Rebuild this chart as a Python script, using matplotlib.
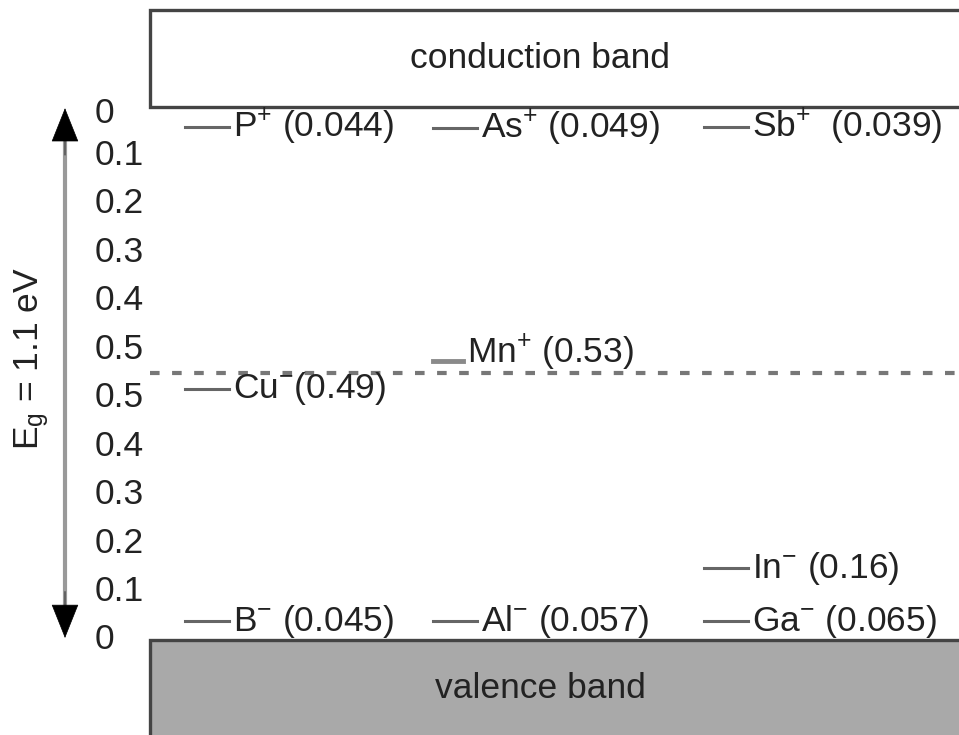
import matplotlib
matplotlib.use("Agg")
import matplotlib.pyplot as plt
from matplotlib.patches import Rectangle

plt.rcParams["font.family"] = ["Liberation Sans", "DejaVu Sans"]
plt.rcParams["mathtext.fontset"] = "custom"
plt.rcParams["mathtext.rm"] = "Liberation Sans"
plt.rcParams["mathtext.it"] = "Liberation Sans:italic"

# band gap and impurity levels (eV above valence band edge)
gap = 1.1
mid_gap = 0.55
names = [r"P$^{+}$ (0.044)", r"As$^{+}$ (0.049)", r"Sb$^{+}$  (0.039)",
         r"Mn$^{+}$ (0.53)", r"Cu$^{-}$(0.49)", r"In$^{-}$ (0.16)",
         r"B$^{-}$ (0.045)", r"Al$^{-}$ (0.057)", r"Ga$^{-}$ (0.065)"]
levels = [1.058, 1.057, 1.058, 0.575, 0.518, 0.148, 0.039, 0.039, 0.039]
column = [0, 1, 2, 1, 0, 2, 0, 1, 2]

# tick labels: distance from nearest band edge
top_ticks = [0, 0.1, 0.2, 0.3, 0.4, 0.5]
bottom_ticks = [0.5, 0.4, 0.3, 0.2, 0.1, 0]

fig = plt.figure(figsize=(9.59, 7.35), dpi=100)
ax = fig.add_axes([0, 0, 1, 1])
ax.set_xlim(0, 959)
ax.set_ylim(-0.196, 1.32)
ax.axis("off")

fs = 25.5
col_x = [185, 433, 704]
edge = "#444444"
txt = "#222222"

# bands
ax.add_patch(Rectangle((150, gap), 900, 0.2, facecolor="white",
                       edgecolor=edge, lw=2.4, zorder=2))
ax.add_patch(Rectangle((150, -0.4), 900, 0.4, facecolor="#a9a9a9",
                       edgecolor=edge, lw=2.4, zorder=2))
ax.text(540, gap + 0.1, "conduction band", ha="center", va="center",
        fontsize=fs, color=txt)
ax.text(540, -0.1, "valence band", ha="center", va="center",
        fontsize=fs, color=txt)

# mid-gap dashed line
ax.plot([150, 959], [mid_gap, mid_gap], color="#777777", lw=3,
        dashes=(2.3, 3.0))

# impurity levels
for name, e, c in zip(names, levels, column):
    x0 = col_x[c]
    if name.startswith("Mn"):
        ax.plot([x0, x0 + 30], [e, e], color="#8a8a8a", lw=3.5)
        ax.text(x0 + 34, e + 0.018, name, ha="left", va="center",
                fontsize=fs, color=txt)
    else:
        ax.plot([x0, x0 + 44], [e, e], color="#666666", lw=2.2)
        ax.text(x0 + 48, e, name, ha="left", va="center",
                fontsize=fs, color=txt)

# tick labels (the top zero sits just under the band edge)
for t in top_ticks:
    ax.text(95, gap - t - (0.014 if t == 0 else 0), f"{t:g}", ha="left",
            va="center", fontsize=fs, color=txt)
for t in bottom_ticks:
    ax.text(95, t, f"{t:g}", ha="left", va="center",
            fontsize=fs, color=txt)

# double arrow for the gap
head = "-|>,head_width=0.46,head_length=1.15"
ax.plot([65, 65], [0.04, gap - 0.04], color="#999999", lw=3, zorder=3)
ax.annotate("", xy=(65, 1.097), xytext=(65, 1.0),
            arrowprops=dict(arrowstyle=head, mutation_scale=20,
                            color="black", lw=0.5, shrinkA=0, shrinkB=0),
            zorder=4)
ax.annotate("", xy=(65, 0.004), xytext=(65, 0.1),
            arrowprops=dict(arrowstyle=head, mutation_scale=20,
                            color="black", lw=0.5, shrinkA=0, shrinkB=0),
            zorder=4)

ax.text(32, 0.58, r"E$_{\mathrm{g}}$ = 1.1 eV", rotation=90,
        ha="center", va="center", fontsize=fs, color=txt)

fig.savefig("out.png", dpi=100)
